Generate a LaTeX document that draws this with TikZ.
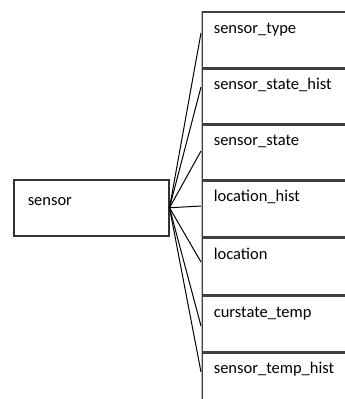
\documentclass[tikz,border=0pt]{standalone}
\usepackage{fontspec}
\setmainfont{Carlito}
\usetikzlibrary{positioning}

\tikzset{
  entity/.style={draw=black!80, line width=1.5bp, minimum width=155bp, minimum height=53bp,
    anchor=north west, inner xsep=14bp, inner ysep=9bp, text height=17bp, text depth=21bp,
    text width=127bp, align=left},
  attr/.style={draw=black!75, line width=1.6bp, anchor=north west, inner xsep=12bp,
    inner ysep=8bp, text height=14bp, text depth=27bp, text width=150bp, align=left},
  link/.style={black, line width=1bp}
}

\begin{document}
\begin{tikzpicture}[x=1bp, y=-1bp, font=\fontsize{16.5bp}{19bp}\selectfont]
   \useasboundingbox (0,0) rectangle (345,399);

   \node[entity] (sensor) at (13,179) {sensor};

   % the attribute boxes run off to the right
   \node[attr] (type)     at (201,11)  {sensor\_type};
   \node[attr] (statehist) at (201,67) {sensor\_state\_hist};
   \node[attr] (state)    at (201,123) {sensor\_state};
   \node[attr] (lochist)  at (201,179) {location\_hist};
   \node[attr] (loc)      at (201,237) {location};
   \node[attr] (curtemp)  at (201,295) {curstate\_temp};
   \node[attr] (temphist) at (201,351) {sensor\_temp\_hist};

   \foreach \n in {type,statehist,state,lochist,loc,curtemp,temphist}
     \draw[gray!55, line width=1bp] (\n.north west) -- (\n.south west);

   \draw[link] (sensor.east) -- ([yshift=-22bp]type.north west);
   \draw[link] (sensor.east) -- ([yshift=-20bp]statehist.north west);
   \draw[link] (sensor.east) -- ([yshift=-28bp]state.north west);
   \draw[link] (sensor.east) -- ([yshift=-27bp]lochist.north west);
   \draw[link] (sensor.east) -- ([yshift=-25bp]loc.north west);
   \draw[link] (sensor.east) -- ([yshift=-31bp]curtemp.north west);
   \draw[link] (sensor.east) -- ([yshift=-21bp]temphist.north west);
\end{tikzpicture}
\end{document}
